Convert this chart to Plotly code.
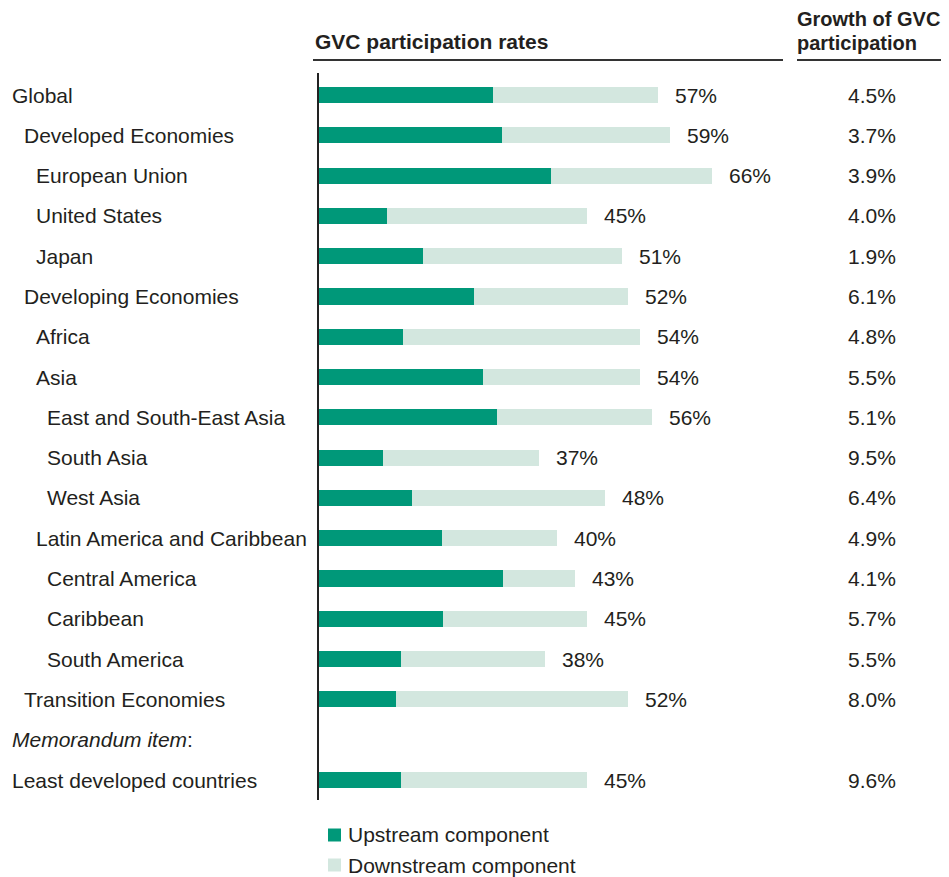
import plotly.graph_objects as go

categories = ["Global", "Developed Economies", "European Union", "United States", "Japan",
              "Developing Economies", "Africa", "Asia", "East and South-East Asia", "South Asia",
              "West Asia", "Latin America and Caribbean", "Central America", "Caribbean",
              "South America", "Transition Economies", "Least developed countries"]
indent_levels = [0, 1, 2, 2, 2, 1, 2, 2, 3, 3, 3, 2, 3, 3, 3, 1, 0]
upstream = [29.2, 30.8, 39.0, 11.4, 17.4, 26.0, 14.2, 27.5, 29.9, 10.8, 15.7, 20.6, 31.0, 20.9, 13.7, 12.9, 13.7]
total = [57, 59, 66, 45, 51, 52, 54, 54, 56, 37, 48, 40, 43, 45, 38, 52, 45]
growth = ["4.5%", "3.7%", "3.9%", "4.0%", "1.9%", "6.1%", "4.8%", "5.5%", "5.1%", "9.5%",
          "6.4%", "4.9%", "4.1%", "5.7%", "5.5%", "8.0%", "9.6%"]
downstream = [round(t - u, 1) for t, u in zip(total, upstream)]
legend_names = ["Upstream component", "Downstream component"]

# row positions (row 16 is the memorandum row)
rows = list(range(16)) + [17]

# page body has an 8px margin: work in reference-pixel coordinates and shift
OFF = 8
W, H = 949 - OFF, 877 - OFF
AX_L, AX_R, AX_T, AX_B = 319, 780, 73, 800   # reference pixels
ML = AX_L - OFF
MR = (949 - AX_R)
MT = AX_T - OFF
MB = 877 - AX_B
PW = W - ML - MR
PH = H - MT - MB
SCALE = 5.95
xmax = PW / SCALE

def px_x(px):
    return (px - AX_L) / PW

def px_y(py):
    return (AX_B - py) / PH

FONT = "Liberation Sans, Arial, sans-serif"
TXT = "#231f20"
UP = "#009879"
DOWN = "#d3e7df"
FS = 21

fig = go.Figure()
fig.add_trace(go.Bar(y=rows, x=upstream, orientation="h", name=legend_names[0],
                     marker=dict(color=UP, line=dict(width=0)), width=0.4, hoverinfo="x"))
fig.add_trace(go.Bar(y=rows, x=downstream, orientation="h", name=legend_names[1],
                     marker=dict(color=DOWN, line=dict(width=0)), width=0.4, hoverinfo="x"))

ann = []
indent_px = [10, 22, 34, 45]
for r, c, lvl in zip(rows, categories, indent_levels):
    ann.append(dict(x=px_x(indent_px[lvl]), xref="paper", y=r, yref="y", text=c,
                    showarrow=False, xanchor="left", yanchor="middle",
                    font=dict(size=FS, color=TXT, family=FONT)))
ann.append(dict(x=px_x(10), xref="paper", y=16, yref="y",
                text="<i>Memorandum item</i>:", showarrow=False, xanchor="left",
                yanchor="middle", font=dict(size=FS, color=TXT, family=FONT)))
for r, t in zip(rows, total):
    ann.append(dict(x=t, xref="x", y=r, yref="y", text=f"{t}%", showarrow=False,
                    xanchor="left", yanchor="middle", xshift=15,
                    font=dict(size=FS, color=TXT, family=FONT)))
for r, g in zip(rows, growth):
    ann.append(dict(x=px_x(872), xref="paper", y=r, yref="y", text=g, showarrow=False,
                    xanchor="center", yanchor="middle",
                    font=dict(size=FS, color=TXT, family=FONT)))
# headers
ann.append(dict(x=px_x(313), xref="paper", y=px_y(42), yref="paper",
                text="<b>GVC participation rates</b>", showarrow=False, xanchor="left",
                yanchor="middle", font=dict(size=FS, color=TXT, family=FONT)))
ann.append(dict(x=px_x(795), xref="paper", y=px_y(19), yref="paper",
                text="<b>Growth of GVC</b>", showarrow=False, xanchor="left",
                yanchor="middle", font=dict(size=20, color=TXT, family=FONT)))
ann.append(dict(x=px_x(795), xref="paper", y=px_y(43), yref="paper",
                text="<b>participation</b>", showarrow=False, xanchor="left",
                yanchor="middle", font=dict(size=20, color=TXT, family=FONT)))

shapes = [
    dict(type="line", xref="paper", yref="paper", x0=px_x(313), x1=px_x(783),
         y0=px_y(60), y1=px_y(60), line=dict(color="#333333", width=2)),
    dict(type="line", xref="paper", yref="paper", x0=px_x(797), x1=px_x(949),
         y0=px_y(60), y1=px_y(60), line=dict(color="#333333", width=2)),
]

# legend drawn manually (a Plotly legend below the plot would push the margins)
for i, (name, col) in enumerate(zip(legend_names, [UP, DOWN])):
    cy = 835 + 30 * i
    shapes.append(dict(type="rect", xref="paper", yref="paper",
                       x0=px_x(328), x1=px_x(341), y0=px_y(cy - 6.5), y1=px_y(cy + 6.5),
                       fillcolor=col, line=dict(width=0)))
    ann.append(dict(x=px_x(346), xref="paper", y=px_y(cy), yref="paper", text=name,
                    showarrow=False, xanchor="left", yanchor="middle",
                    font=dict(size=FS, color=TXT, family=FONT)))

row_sp = (780 - 95) / 17
fig.update_layout(
    width=W, height=H,
    margin=dict(l=ML, r=MR, t=MT, b=MB, autoexpand=False),
    paper_bgcolor="white", plot_bgcolor="white",
    barmode="stack",
    xaxis=dict(range=[0, xmax], showgrid=False, zeroline=False, showticklabels=False,
               showline=False, fixedrange=True),
    yaxis=dict(range=[17 + 20 / row_sp, -22 / row_sp], showgrid=False, zeroline=False,
               showticklabels=False, showline=True, linecolor="#222222", linewidth=1.5,
               fixedrange=True),
    annotations=ann, shapes=shapes,
    showlegend=False,
    font=dict(family=FONT, color=TXT),
)

fig.write_html("out.html")
